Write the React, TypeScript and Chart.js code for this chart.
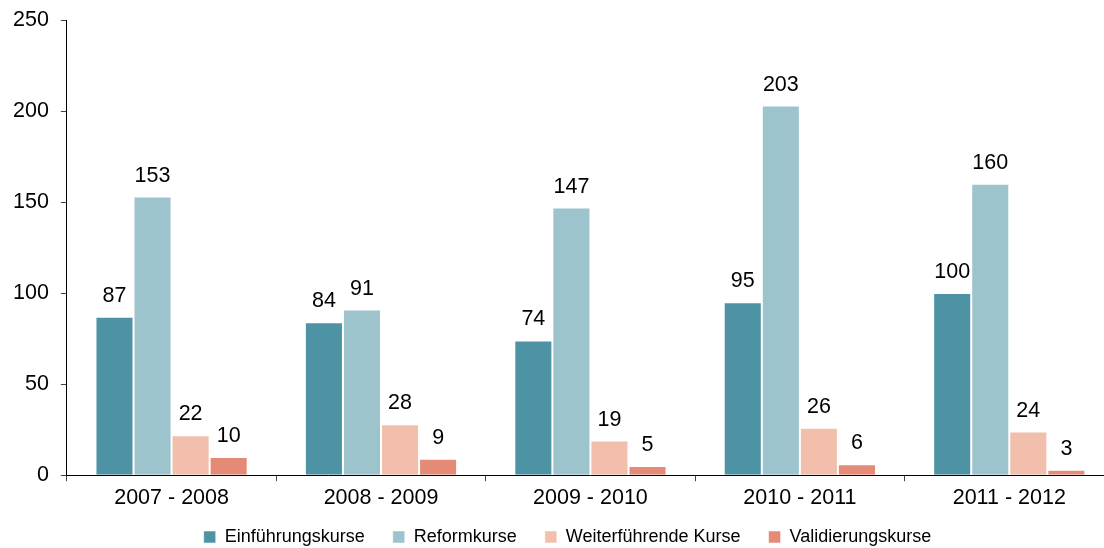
import React, { useEffect, useRef } from "react";
import { Chart, registerables } from "chart.js";

Chart.register(...registerables);

const categories = ["2007 - 2008", "2008 - 2009", "2009 - 2010", "2010 - 2011", "2011 - 2012"];
const seriesNames = ["Einführungskurse", "Reformkurse", "Weiterführende Kurse", "Validierungskurse"];
const einfuehrung = [87, 84, 74, 95, 100];
const reform = [153, 91, 147, 203, 160];
const weiterfuehrend = [22, 28, 19, 26, 24];
const validierung = [10, 9, 5, 6, 3];
const colors = ["#4E93A4", "#9DC3CD", "#F2BFAC", "#E48A77"];
const yTicks = [0, 50, 100, 150, 200, 250];

const FONT = "'Liberation Sans', Arial, sans-serif";

const valueLabels = {
  id: "valueLabels",
  afterDatasetsDraw(chart: any) {
    const ctx = chart.ctx;
    ctx.save();
    ctx.font = `21.5px ${FONT}`;
    ctx.fillStyle = "#000";
    ctx.textAlign = "center";
    ctx.textBaseline = "alphabetic";
    chart.data.datasets.forEach((ds: any, i: number) => {
      const meta = chart.getDatasetMeta(i);
      meta.data.forEach((bar: any, j: number) => {
        ctx.fillText(String(ds.data[j]), bar.x, bar.y - 15);
      });
    });
    ctx.restore();
  },
};

const legendPlacer = {
  id: "legendPlacer",
  afterLayout(chart: any) {
    const lg = chart.legend;
    if (!lg) return;
    const dx = 10;
    lg.left += dx;
    lg.right += dx;
    const top = chart.height - 11 - 37;
    lg.top = top;
    lg.bottom = top + 56;
    lg.height = 56;
  },
};

export default function App() {
  const ref = useRef<HTMLCanvasElement>(null);
  useEffect(() => {
    document.body.style.margin = "0";
    document.body.style.overflow = "hidden";
    const chart = new Chart(ref.current as HTMLCanvasElement, {
      type: "bar",
      data: {
        labels: categories,
        datasets: [einfuehrung, reform, weiterfuehrend, validierung].map((d, i) => ({
          label: seriesNames[i],
          data: d,
          backgroundColor: colors[i],
          borderColor: "rgba(255,255,255,0.5)",
          borderWidth: 1,
          barPercentage: 1,
          categoryPercentage: 0.727,
        })),
      },
      options: {
        animation: false,
        responsive: false,
        layout: { padding: { top: 20, left: 1, right: 0, bottom: 0 } },
        plugins: {
          tooltip: { enabled: false },
          legend: {
            position: "bottom",
            maxHeight: 33,
            labels: {
              boxWidth: 12,
              boxHeight: 12,
              padding: 28,
              color: "#000",
              font: { family: FONT, size: 18 },
            },
          },
        },
        scales: {
          x: {
            grid: { display: true, drawOnChartArea: false, offset: true, tickLength: 6, color: "#444" },
            border: { display: true, color: "#000", width: 1 },
            ticks: { color: "#000", padding: 4, font: { family: FONT, size: 21.5 } },
          },
          y: {
            min: 0,
            max: 250,
            afterBuildTicks: (axis: any) => {
              axis.ticks = yTicks.map((v) => ({ value: v }));
            },
            grid: { display: true, drawOnChartArea: false, tickLength: 6, color: "#444" },
            border: { display: true, color: "#000", width: 1 },
            ticks: { color: "#000", padding: 12, font: { family: FONT, size: 21.5, lineHeight: 0.6 } },
          },
        },
      },
      plugins: [valueLabels, legendPlacer],
    });
    return () => chart.destroy();
  }, []);
  return (
    <div style={{ width: 1104, height: 548, overflow: "hidden" }}>
      <canvas ref={ref} width={1114} height={548} />
    </div>
  );
}
